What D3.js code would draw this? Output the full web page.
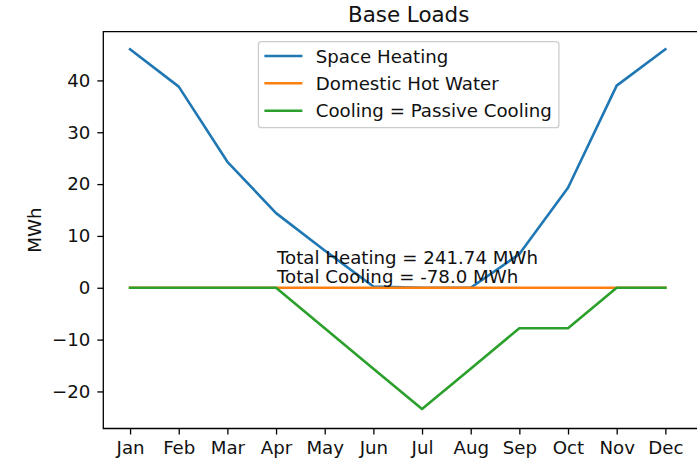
<!DOCTYPE html>
<html>
<head>
<meta charset="utf-8">
<script src="https://cdn.jsdelivr.net/npm/d3@7/dist/d3.min.js"></script>
<style>
  html, body { margin: 0; padding: 0; background: #fff; }
  svg { display: block; font-family: "DejaVu Sans", sans-serif; }
</style>
</head>
<body>
<svg id="chart" width="697" height="466"></svg>
<script>
// Monthly base loads (MWh)
const months = ["Jan", "Feb", "Mar", "Apr", "May", "Jun", "Jul", "Aug", "Sep", "Oct", "Nov", "Dec"];
const spaceHeating = [46.0, 38.8, 24.3, 14.4, 7.2, 0.24, 0, 0, 6.5, 19.3, 39.0, 46.0];
const domesticHotWater = [0, 0, 0, 0, 0, 0, 0, 0, 0, 0, 0, 0];
const passiveCooling = [0, 0, 0, 0, -7.8, -15.6, -23.4, -15.6, -7.8, -7.8, 0, 0];
const yTicks = [-20, -10, 0, 10, 20, 30, 40];
const seriesNames = ["Space Heating", "Domestic Hot Water", "Cooling = Passive Cooling"];
const seriesColors = ["#1f77b4", "#ff7f0e", "#2ca02c"];

const totalHeating = d3.sum(spaceHeating);
const totalCooling = d3.sum(passiveCooling);

const svg = d3.select("#chart");
const W = 697, H = 466;
const plot = { left: 103.3, top: 31.7, right: 714, bottom: 428.5 };
const fontSize = 18.2;

svg.append("rect").attr("width", W).attr("height", H).attr("fill", "#fff");

const x = d3.scaleLinear().domain([-0.55, 12]).range([plot.left, plot.right]);
const y = d3.scaleLinear().domain([-27.15, 49.4]).range([plot.bottom, plot.top]);

const g = svg.append("g");

// clip the data area
svg.append("defs").append("clipPath").attr("id", "clip")
  .append("rect")
  .attr("x", plot.left).attr("y", plot.top)
  .attr("width", plot.right - plot.left).attr("height", plot.bottom - plot.top);

const line = d3.line().x((d, i) => x(i)).y(d => y(d));
const lines = g.append("g").attr("clip-path", "url(#clip)");
[spaceHeating, domesticHotWater, passiveCooling].forEach((vals, k) => {
  lines.append("path")
    .datum(vals)
    .attr("d", line)
    .attr("fill", "none")
    .attr("stroke", seriesColors[k])
    .attr("stroke-width", 2.6)
    .attr("stroke-linejoin", "round")
    .attr("stroke-linecap", "square");
});

// totals annotation
const note = g.append("text")
  .attr("x", x(3) + 1)
  .attr("y", y(0))
  .attr("font-size", fontSize)
  .attr("fill", "#111");
note.append("tspan").attr("x", x(3) + 1).attr("dy", -23.8)
  .text(`Total Heating = ${totalHeating.toFixed(2)} MWh`);
note.append("tspan").attr("x", x(3) + 1).attr("dy", 19.3)
  .text(`Total Cooling = ${totalCooling.toFixed(1)} MWh`);

// axes
const xAxis = d3.axisBottom(x)
  .tickValues(d3.range(months.length))
  .tickFormat(i => months[i])
  .tickSize(6).tickPadding(7);
const yAxis = d3.axisLeft(y)
  .tickValues(yTicks)
  .tickFormat(d3.format("d"))
  .tickSize(6).tickPadding(7);

const gx = g.append("g").attr("transform", `translate(0,${plot.bottom})`).call(xAxis);
const gy = g.append("g").attr("transform", `translate(${plot.left},0)`).call(yAxis);
[gx, gy].forEach(a => {
  a.select(".domain").remove();
  a.selectAll(".tick line").attr("stroke", "#000").attr("stroke-width", 1.3);
  a.selectAll(".tick text").attr("font-size", fontSize).attr("fill", "#111")
    .attr("font-family", "DejaVu Sans, sans-serif");
});

// frame (left, top, bottom)
g.append("path")
  .attr("d", `M${W + 5},${plot.top}H${plot.left}V${plot.bottom}H${W + 5}`)
  .attr("fill", "none")
  .attr("stroke", "#000")
  .attr("stroke-width", 1.3);

// title and y label
const cx = (plot.left + plot.right) / 2;
svg.append("text")
  .attr("x", cx).attr("y", 21.7)
  .attr("text-anchor", "middle")
  .attr("font-size", 21.4)
  .attr("fill", "#111")
  .text("Base Loads");

svg.append("text")
  .attr("transform", `translate(40.8,${(plot.top + plot.bottom) / 2}) rotate(-90)`)
  .attr("text-anchor", "middle")
  .attr("font-size", fontSize)
  .attr("fill", "#111")
  .text("MWh");

// legend
const leg = svg.append("g");
const legBox = leg.append("rect")
  .attr("rx", 3).attr("ry", 3)
  .attr("fill", "#fff").attr("fill-opacity", 0.8)
  .attr("stroke", "#ccc").attr("stroke-width", 1.3);
const rowY = [56, 83.3, 110.7];
let maxW = 0;
const legLeft = 259.3;
seriesNames.forEach((name, k) => {
  leg.append("line")
    .attr("x1", legLeft + 6).attr("x2", legLeft + 44)
    .attr("y1", rowY[k]).attr("y2", rowY[k])
    .attr("stroke", seriesColors[k]).attr("stroke-width", 2.6);
  const t = leg.append("text")
    .attr("x", legLeft + 57.4).attr("y", rowY[k]).attr("dy", "0.36em")
    .attr("font-size", fontSize).attr("fill", "#111")
    .text(name);
  maxW = Math.max(maxW, t.node().getComputedTextLength());
});
const boxW = 57.4 + maxW + 7;
legBox.attr("x", legLeft).attr("y", 41.7).attr("width", boxW).attr("height", 86);
leg.attr("transform", `translate(${cx - (legLeft + boxW / 2)},0)`);
</script>
</body>
</html>
